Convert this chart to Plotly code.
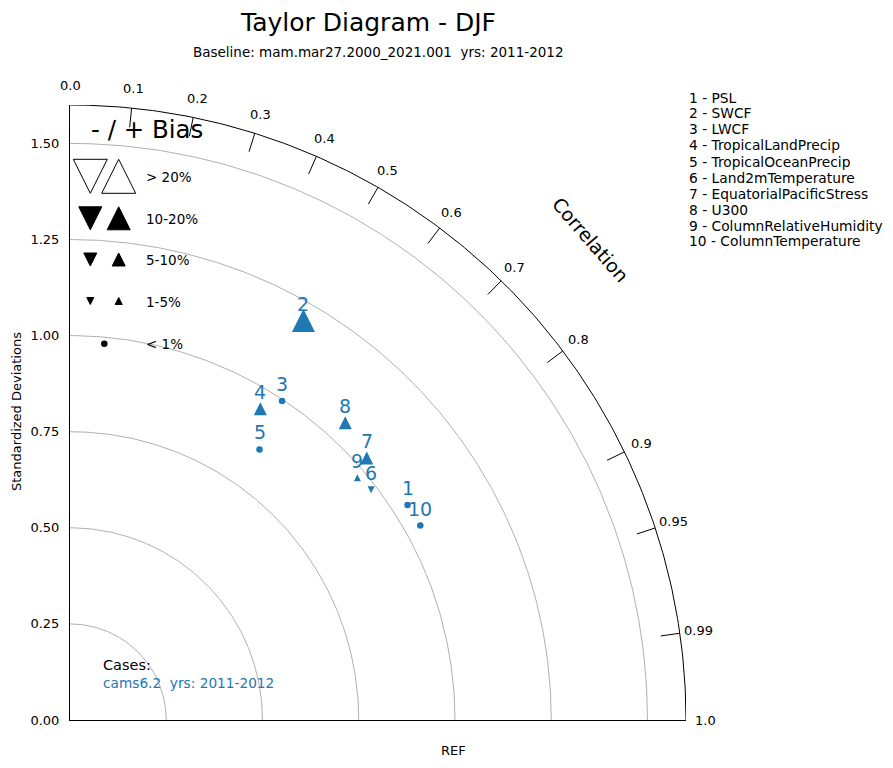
import numpy as np
import plotly.graph_objects as go

# Taylor diagram - DJF, one case against the baseline

variables = ['PSL', 'SWCF', 'LWCF', 'TropicalLandPrecip', 'TropicalOceanPrecip',
             'Land2mTemperature', 'EquatorialPacificStress', 'U300',
             'ColumnRelativeHumidity', 'ColumnTemperature']
stddev = [1.040, 1.203, 0.996, 0.949, 0.859, 0.985, 1.029, 1.053, 0.977, 1.041]
correlation = [0.843, 0.504, 0.553, 0.521, 0.573, 0.794, 0.749, 0.679, 0.764, 0.874]
bias_pct = [0.4, 12.0, -0.5, 6.0, 0.3, -2.0, 6.0, 7.0, 2.0, -0.4]

std_rings = [0.25, 0.5, 0.75, 1.0, 1.25, 1.5]
std_ticks = [0.0, 0.25, 0.5, 0.75, 1.0, 1.25, 1.5]
corr_ticks = [0.1, 0.2, 0.3, 0.4, 0.5, 0.6, 0.7, 0.8, 0.9, 0.95, 0.99]
corr_labels = [0.0] + corr_ticks + [1.0]
bias_classes = ['> 20%', '10-20%', '5-10%', '1-5%', '< 1%']
bias_sizes = [34, 23, 13, 7, 6.5]

case_name = 'cams6.2\u00a0 yrs: 2011-2012'
baseline = 'Baseline: mam.mar27.2000_2021.001\u00a0 yrs: 2011-2012'

SMAX = 1.6
# page body has an 8px margin, so the figure is a bit smaller and shifted
PAGE_PAD = 8
W, H = 893 - PAGE_PAD, 768 - PAGE_PAD
PLOT_L, PLOT_T, PLOT_W, PLOT_H = 70, 105, 616, 615  # in window pixels
L, T = PLOT_L - PAGE_PAD, PLOT_T - PAGE_PAD
R, B = W - L - PLOT_W, H - T - PLOT_H
PXX = PLOT_W / SMAX
PXY = PLOT_H / SMAX
BLUE = '#1f77b4'
FONT = 'DejaVu Sans'


def paper(px, py):
    # window pixel position -> paper coords
    return (px - PLOT_L) / PLOT_W, (PLOT_T + PLOT_H - py) / PLOT_H


def text_at(px, py, txt, size, color='black', xanchor='center', angle=0):
    x, y = paper(px, py)
    return dict(x=x, y=y, xref='paper', yref='paper', text=txt, textangle=angle,
                xanchor=xanchor, yanchor='middle', showarrow=False, borderpad=0,
                font=dict(size=size, color=color))


def marker_for(b):
    a = abs(b)
    if a < 1:
        return 'circle', 6.5
    if a < 5:
        size = 7
    elif a < 10:
        size = 13
    elif a < 20:
        size = 23
    else:
        size = 34
    return ('arrow-up' if b > 0 else 'arrow-down'), size


fig = go.Figure()

# std dev rings
theta = np.linspace(0, np.pi / 2, 200)
for r in std_rings:
    fig.add_trace(go.Scatter(x=r * np.cos(theta), y=r * np.sin(theta), mode='lines',
                             line=dict(color='#b0b0b0', width=1), hoverinfo='skip'))

# outer arc
fig.add_trace(go.Scatter(x=SMAX * np.cos(theta), y=SMAX * np.sin(theta), mode='lines',
                         line=dict(color='black', width=1), hoverinfo='skip', cliponaxis=False))

# correlation ticks (inward)
tx, ty = [], []
for c in corr_ticks:
    a = np.arccos(c)
    tx += [1.55 * np.cos(a), SMAX * np.cos(a), None]
    ty += [1.55 * np.sin(a), SMAX * np.sin(a), None]
fig.add_trace(go.Scatter(x=tx, y=ty, mode='lines', line=dict(color='black', width=1),
                         hoverinfo='skip'))

annotations = []
for c in corr_labels:
    a = np.arccos(c)
    lab = f'{c:.1f}' if c in (0.0, 1.0) else f'{c:g}'
    annotations.append(dict(x=1.65 * np.cos(a) / SMAX, y=1.65 * np.sin(a) / SMAX,
                            xref='paper', yref='paper', text=lab, xanchor='center',
                            yanchor='middle', showarrow=False, borderpad=0,
                            font=dict(size=13, color='black')))

# case points
xs = [s * c for s, c in zip(stddev, correlation)]
ys = [s * np.sqrt(1 - c ** 2) for s, c in zip(stddev, correlation)]
for i, (x, y, b) in enumerate(zip(xs, ys, bias_pct)):
    sym, size = marker_for(b)
    yplot = y
    if sym == 'arrow-up':
        yplot = y + size / 2 / PXY
    elif sym == 'arrow-down':
        yplot = y - size / 2 / PXY
    fig.add_trace(go.Scatter(x=[x], y=[yplot], mode='markers',
                             marker=dict(symbol=sym, size=size, color=BLUE, line=dict(width=0)),
                             hovertext=variables[i], cliponaxis=False))
    annotations.append(dict(x=x, y=y, xref='x', yref='y', text=str(i + 1), yshift=17,
                            xanchor='center', yanchor='middle', borderpad=0,
                            showarrow=False, font=dict(size=19, color=BLUE)))

# bias legend
row_y = [176.3, 218.3, 259.5, 301, 343.7]
for k, (lab, size) in enumerate(zip(bias_classes, bias_sizes)):
    ly = (PLOT_T + PLOT_H - row_y[k]) / PXY
    if size < 7:
        fig.add_trace(go.Scatter(x=[(104.3 - PLOT_L) / PXX], y=[ly], mode='markers',
                                 marker=dict(symbol='circle', size=size, color='black'),
                                 hoverinfo='skip'))
    else:
        fill = 'white' if k == 0 else 'black'
        for px, sym, sgn in [(90.3, 'arrow-down', -1), (118.7, 'arrow-up', 1)]:
            fig.add_trace(go.Scatter(x=[(px - PLOT_L) / PXX], y=[ly + sgn * size / 2 / PXY],
                                     mode='markers', cliponaxis=False,
                                     marker=dict(symbol=sym, size=size, color=fill,
                                                 line=dict(color='black', width=1)),
                                     hoverinfo='skip'))
    annotations.append(text_at(145, row_y[k] + 0.5, lab, 13.5, xanchor='left'))

annotations.append(text_at(90, 129.5, '- / + Bias', 24.5, xanchor='left'))

# variable list on the right
for i, v in enumerate(variables):
    annotations.append(text_at(687.5, 97.5 + 16 * i, f'{i + 1} - {v}', 13.8, xanchor='left'))

# cases
annotations.append(text_at(102, 665, 'Cases:', 14.5, xanchor='left'))
annotations.append(text_at(101.5, 683.3, case_name, 13.7, color=BLUE, xanchor='left'))

# titles and axis labels
annotations.append(text_at(367.5, 22.5, 'Taylor Diagram - DJF', 25))
annotations.append(text_at(378.3, 52.5, baseline, 13.5))
annotations.append(text_at(590.8, 240, 'Correlation', 19, angle=49))
annotations.append(text_at(453, 751, 'REF', 13))
annotations.append(text_at(16, 412, 'Standardized Deviations', 13, angle=-90))

fig.update_layout(
    width=W, height=H,
    margin=dict(l=L, r=R, t=T, b=B),
    plot_bgcolor='white', paper_bgcolor='white',
    font=dict(family=FONT, color='black'),
    showlegend=False,
    annotations=annotations,
    xaxis=dict(range=[0, SMAX], showgrid=False, zeroline=False, showline=True,
               linecolor='black', linewidth=1, showticklabels=False, ticks=''),
    yaxis=dict(range=[0, SMAX], showgrid=False, zeroline=False, showline=True,
               linecolor='black', linewidth=1, tickvals=std_ticks,
               ticktext=[f'{v:.2f}' for v in std_ticks], ticks='outside', ticklen=7,
               tickcolor='rgba(0,0,0,0)', tickfont=dict(size=13)),
)

fig.write_html('out.html')
